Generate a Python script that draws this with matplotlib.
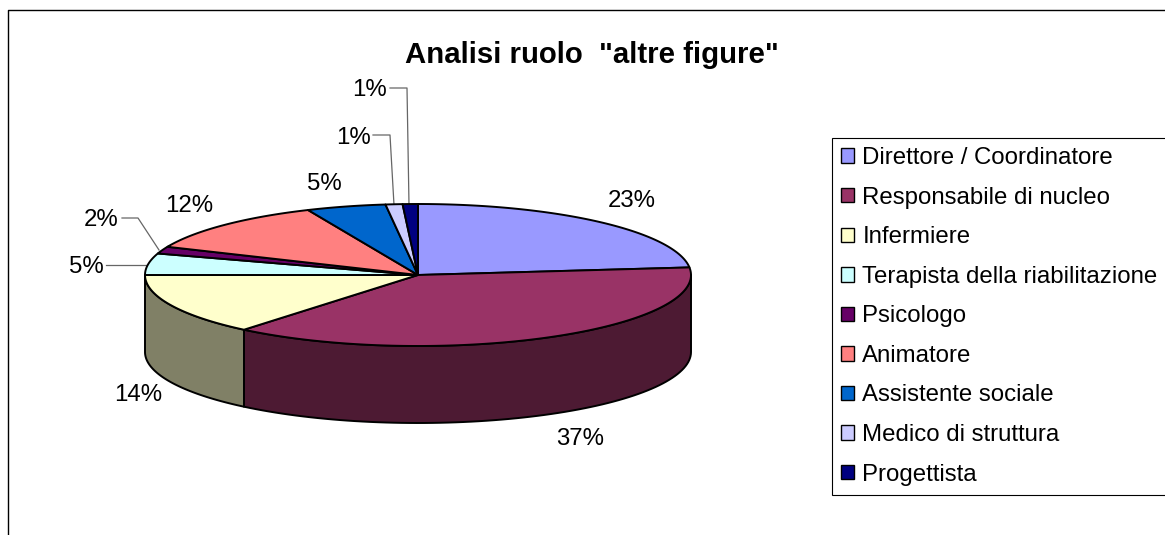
import numpy as np
import matplotlib
matplotlib.use("Agg")
import matplotlib.pyplot as plt
from matplotlib.patches import Patch

plt.rcParams['font.family'] = ['Liberation Sans', 'DejaVu Sans']

ruoli = ["Direttore / Coordinatore", "Responsabile di nucleo", "Infermiere",
         "Terapista della riabilitazione", "Psicologo", "Animatore",
         "Assistente sociale", "Medico di struttura", "Progettista"]
# values, shown labels are the rounded ones
valori = [23.3, 37.7, 14.0, 4.9, 1.6, 11.9, 4.7, 1.0, 0.9]
etichette = ["23%", "37%", "14%", "5%", "2%", "12%", "5%", "1%", "1%"]
colori = ["#9999FF", "#993366", "#FFFFCC", "#CCFFFF", "#660066",
          "#FF8080", "#0066CC", "#CCCCFF", "#000080"]
titolo = 'Analisi ruolo  "altre figure"'

# pixel layout of the pie
cx, cy, rx, ry, depth = 418, 275, 273, 71, 77
label_x = [632, 580, 138, 86, 101, 189, 324, 353, 370]
label_y = [201, 439, 395, 267, 220, 206, 184, 138, 90]

fig = plt.figure(figsize=(11.65, 5.35), dpi=100)
ax = fig.add_axes([0, 0, 1, 1])
ax.set_xlim(0, 1165)
ax.set_ylim(535, 0)
ax.axis("off")

# chart frame, runs off the right and bottom edge
ax.plot([8, 8, 1165], [535, 10, 10], color="black", lw=1.0, clip_on=False)


def bordo(t):
    return cx + rx * np.sin(t), cy - ry * np.cos(t)


def scuro(c):
    rgb = np.array(matplotlib.colors.to_rgb(c))
    return tuple(rgb * 0.5)


limiti = np.deg2rad(np.cumsum([0] + valori) / sum(valori) * 360)

# side wall, only the front half of the rim shows
for i in range(len(valori)):
    a = max(limiti[i], np.pi / 2)
    b = min(limiti[i + 1], 3 * np.pi / 2)
    if b <= a:
        continue
    t = np.linspace(a, b, 80)
    x, y = bordo(t)
    ax.fill(np.r_[x, x[::-1]], np.r_[y, y[::-1] + depth], facecolor=scuro(colori[i]),
            edgecolor="black", lw=1.4, joinstyle="round", zorder=2)

# top face
for i in range(len(valori)):
    t = np.linspace(limiti[i], limiti[i + 1], 120)
    x, y = bordo(t)
    ax.fill(np.r_[cx, x], np.r_[cy, y], facecolor=colori[i], edgecolor="black",
            lw=1.4, joinstyle="round", zorder=3)

ax.text(592, 55, titolo, fontsize=21.2, fontweight="bold", ha="center", va="center")

for s, lx, ly in zip(etichette, label_x, label_y):
    ax.text(lx, ly, s, fontsize=17.3, color="black", ha="center", va="center")

# leader lines for the small slices
leader = "#666666"
ax.plot([106, 146], [265, 265], color=leader, lw=0.9, zorder=1)
ax.plot([122, 138, 159], [218, 218, 250], color=leader, lw=0.9, zorder=1)
ax.plot([373, 390, 394], [135, 135, 205], color=leader, lw=0.9, zorder=1)
ax.plot([390, 407, 409], [88, 88, 205], color=leader, lw=0.9, zorder=1)

handles = [Patch(facecolor=c, edgecolor="black", lw=1.0) for c in colori]
leg = ax.legend(handles, ruoli, loc="upper left", bbox_to_anchor=(832 / 1165, 1 - 138 / 535),
                bbox_transform=ax.transAxes, fontsize=17.25, frameon=True, fancybox=False,
                edgecolor="black", framealpha=1, borderaxespad=0, borderpad=0.38,
                labelspacing=0.733, handlelength=0.55, handleheight=0.55, handletextpad=0.34)
leg.get_frame().set_linewidth(0.8)

fig.savefig("out.png", dpi=100)
